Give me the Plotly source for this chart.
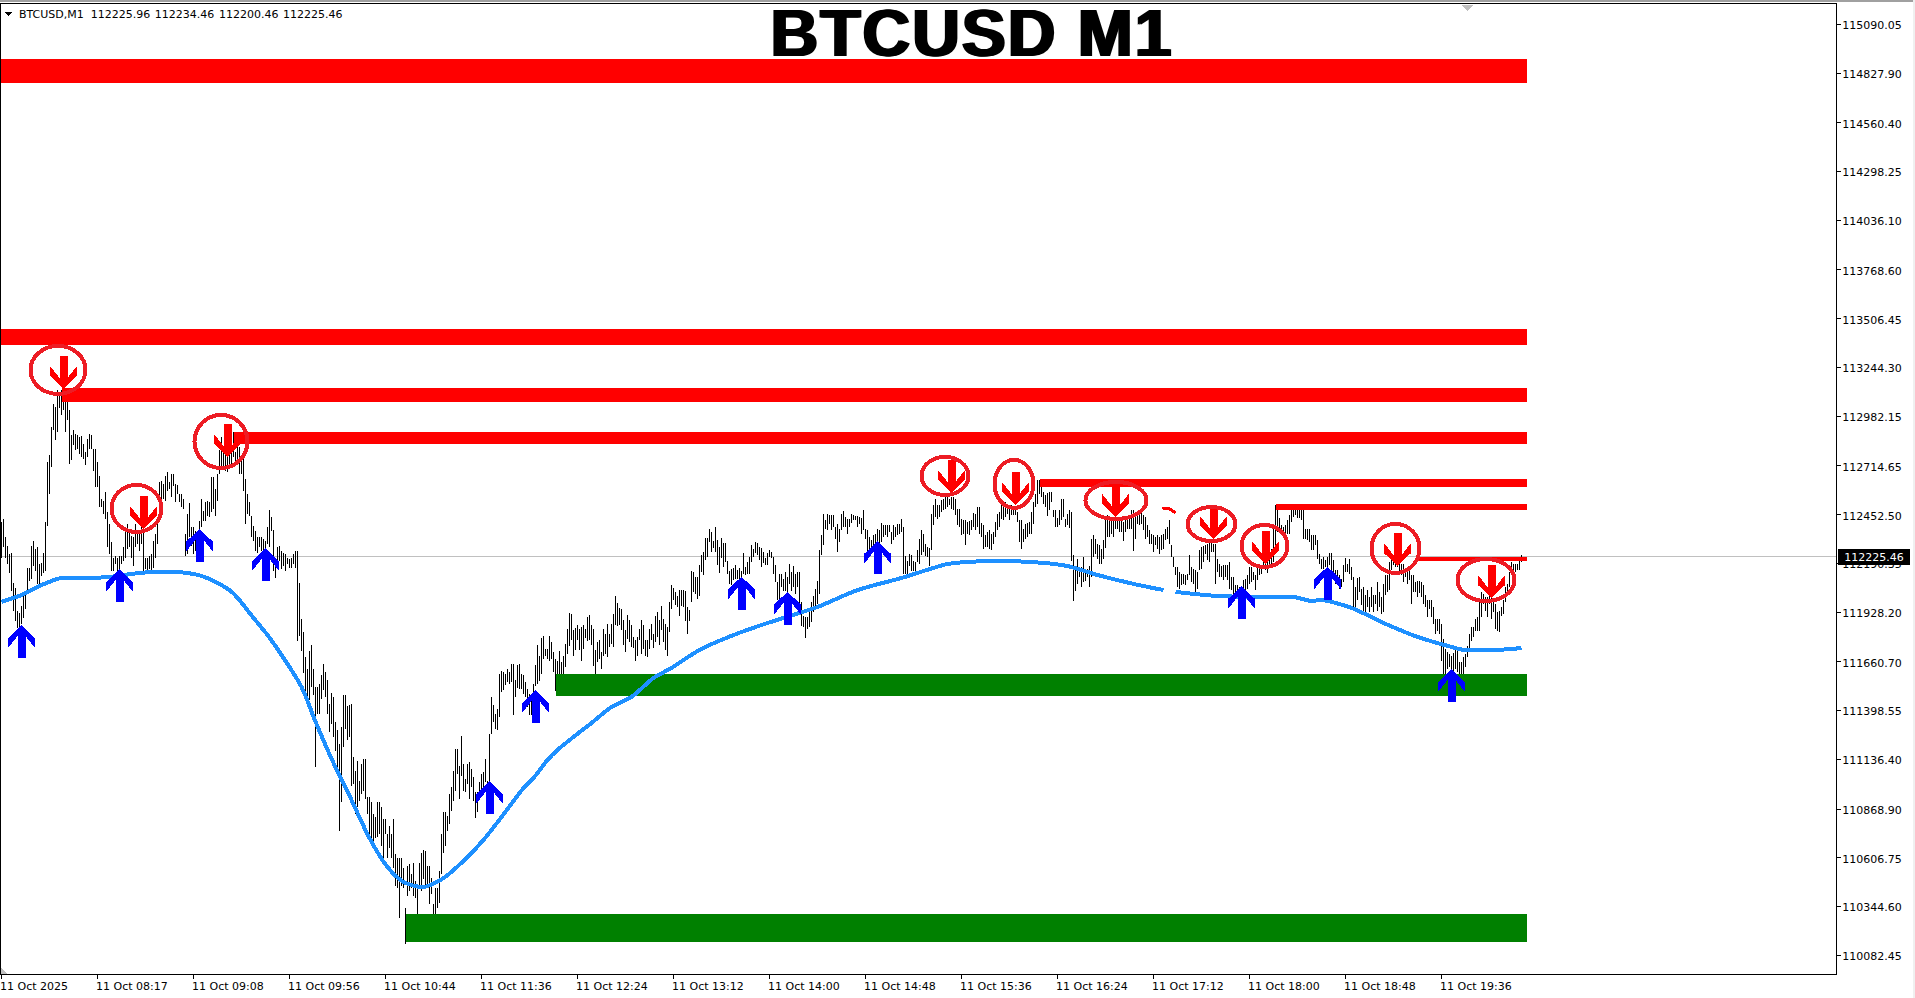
import plotly.graph_objects as go

# all prices below are stored as offset over this base
BASE = 110000

# M1 bar highs / lows, one per minute, oldest first
HIGHS = [
    2411,2429,2330,2285,2240,2244,2087,2060,1934,1925,1961,2015,2024,2168,2168,2285,2312,2267,2276,2186,
    2195,2249,2411,2735,2771,2924,3046,3032,3122,3104,3122,3068,3104,3100,3014,2879,2906,2888,2879,2870,
    2874,2834,2789,2861,2884,2879,2807,2807,2735,2663,2537,2528,2573,2465,2402,2303,2222,2231,2222,2231,
    2231,2276,2357,2402,2366,2339,2330,2402,2366,2366,2384,2357,2222,2222,2231,2240,2312,2348,2402,2627,
    2636,2618,2663,2681,2627,2672,2672,2618,2614,2564,2564,2537,2348,2456,2514,2384,2384,2366,2366,2420,
    2537,2474,2519,2528,2519,2654,2654,2591,2672,2798,2870,2816,2834,2816,2789,2816,2897,2789,2825,2816,
    2762,2753,2645,2564,2519,2447,2393,2366,2330,2330,2330,2321,2312,2384,2478,2438,2370,2222,2276,2285,
    2258,2249,2240,2222,2213,2222,2240,2258,2258,
    2085,1891,1821,1687,1622,1719,1752,1622,1526,1526,1544,1589,1647,1607,1562,1436,1494,1472,1337,1292,
    1220,1310,1481,1485,1422,1427,1432,1148,1076,1130,1022,1112,1139,1139,932,932,905,842,824,905,
    905,878,815,815,734,779,734,815,626,608,608,608,554,338,563,572,518,581,482,446,
    581,635,648,644,563,563,500,356,446,446,536,734,851,851,833,950,986,1076,1193,1193,
    1103,1260,1112,1031,1112,1121,1085,1040,959,959,1013,1058,1067,1139,1022,1274,1472,1427,1382,1409,
    1596,1612,1607,1594,1620,1607,1652,1652,1562,1643,1648,1598,1589,1553,1517,1490,1463,1544,
    1646,1749,1695,1790,1798,1731,1731,1798,1767,1713,1677,1668,1717,1659,1695,1758,1839,1925,1920,1834,
    1845,1857,1839,1848,1857,1839,1902,1911,1857,1835,1722,1767,1780,1713,1839,1812,1862,1808,1862,1920,
    2014,1978,1951,1947,1884,1830,1911,1884,1861,1794,1776,1794,1839,1884,1857,1776,1776,1839,1866,1812,
    1906,1929,1888,1960,1893,1866,1848,1981,2073,2060,2037,2014,2050,2046,2046,2042,1956,1938,2149,2145,
    2118,2118,2181,2235,2253,2325,2325,2374,2361,2312,2384,2316,2280,2325,2298,2298,2203,2149,2158,2163,
    2181,2154,2163,2149,2249,2172,2199,2226,2289,2267,2307,2298,2280,2271,2253,2217,2244,2262,2253,2226,
    2181,2091,
    2134,2134,2107,2143,2116,2188,2143,2179,2134,2143,2143,1981,1909,1904,1900,1927,1981,2017,2053,2098,
    2260,2341,2454,2422,2454,2453,2449,2449,2386,2400,2377,2454,2471,2440,2431,2431,2454,2449,2445,2444,
    2440,2436,2476,2377,2368,2332,2314,2341,2350,2377,2368,2408,2395,2395,2399,2399,2359,2395,2386,2400,
    2400,2431,2386,2228,2206,2242,2233,2206,2197,2260,2323,2368,2350,2296,2278,2274,2454,2503,2539,2503,
    2503,2530,2539,2548,2548,2539,2548,2548,2539,2485,2485,2431,2426,2422,2413,2418,2422,2462,2458,2494,
    2494,2408,2395,2341,2359,2368,2350,2359,2413,2458,2467,2521,2503,2521,2503,2503,2503,2485,2476,2467,
    2422,2422,2377,2404,2408,2413,2467,2521,2566,2638,2638,2620,2575,2557,2570,2575,2575,2476,2480,2436,
    2480,2539,2539,2431,2458,2480,2467,2233,2170,2215,2170,2170,2224,2152,2161,2179,2323,2341,2323,2296,
    2287,
    2270,2315,2441,2450,2432,2432,2432,2459,2432,2423,2441,2414,2432,2423,2450,2477,2477,2441,2450,2450,
    2477,2450,2441,2396,2369,2351,2342,2333,2342,2333,2342,2351,2378,2387,2423,2288,2225,2171,2171,2144,
    2135,2135,2126,2135,2234,2171,2162,2153,2144,2261,2279,2283,2288,2297,2306,2306,2297,2297,2216,2189,
    2176,2180,2180,2180,2198,2117,2117,2072,2072,2063,2063,2099,2108,2126,2171,2171,2144,2126,2171,2171,
    2162,2207,2225,2216,2252,2270,2378,2504,2504,2432,2396,2387,2396,2423,2450,2504,2495,2504,2477,2486,
    2495,2486,2378,2378,2378,2342,2342,2342,2315,2243,2216,2225,2207,2225,2247,2247,2207,2153,2153,2126,
    2108,2180,2221,2189,2216,2171,2117,2063,2113,2117,2054,2063,2018,2045,2009,2063,2018,2018,2090,2036,
    2009,2081,2126,2126,2198,2225,2225,2225,2198,2198,2189,2189,2162,2162,2171,2126,2126,2090,2096,2096,
    2090,2072,2018,1991,1991,1991,1955,1892,1892,1892,1865,1784,1730,1712,1703,1694,1707,1730,1721,1658,
    1658,1685,1703,1748,1811,1847,1847,1892,1901,2000,2036,2027,2009,2009,2018,2009,1982,1973,1928,1937,
    1955,1991,2063,2081,2144,2198,2189,2189,2189,2207,2234,
]
LOWS = [
    2222,2276,2222,2186,2141,2042,1934,1880,1844,1844,1862,1898,1943,2024,2096,2105,2177,2150,2078,2078,
    2123,2141,2150,2393,2564,2708,2906,2852,2897,3028,2987,3014,2897,2960,2726,2744,2825,2798,2807,2780,
    2762,2753,2717,2762,2807,2807,2690,2600,2600,2492,2492,2456,2429,2276,2240,2150,2150,2186,2150,2150,
    2186,2204,2222,2267,2276,2222,2177,2276,2294,2258,2294,2150,2159,2150,2159,2150,2168,2222,2294,2492,
    2528,2537,2528,2582,2591,2546,2609,2519,2564,2519,2492,2483,2231,2240,2330,2285,2240,2258,2276,2366,
    2384,2420,2420,2447,2438,2465,2483,2447,2528,2672,2708,2708,2690,2681,2708,2717,2762,2735,2753,2672,
    2672,2582,2402,2456,2447,2330,2312,2258,2249,2276,2258,2258,2249,2294,2276,2366,2150,2114,2186,2204,
    2159,2177,2150,2186,2168,2168,2186,2168,1772,
    1800,1720,1601,1493,1456,1456,1526,1483,1094,1382,1382,1463,1508,1472,1382,1283,1328,1256,1184,1094,
    752,905,1202,1301,1238,1256,995,1004,842,878,914,950,968,923,842,707,716,680,716,720,
    734,671,608,734,608,662,608,554,455,446,284,455,446,144,401,428,446,401,392,302,
    455,428,491,446,446,356,410,221,293,338,365,518,635,671,752,788,860,914,968,1058,
    923,1049,968,959,1004,923,986,914,819,851,932,950,968,1013,932,1022,1274,1337,1301,1292,
    1364,1499,1508,1535,1553,1544,1553,1373,1472,1522,1517,1517,1490,1472,1418,1373,1373,1454,
    1533,1542,1560,1596,1677,1695,1677,1668,1677,1605,1506,1596,1551,1551,1533,1632,1704,1744,1776,1695,
    1722,1776,1722,1664,1731,1789,1772,1776,1749,1641,1578,1659,1677,1623,1695,1704,1686,1740,1758,1740,
    1857,1852,1857,1830,1749,1713,1785,1767,1740,1736,1664,1695,1776,1704,1731,1695,1686,1731,1776,1736,
    1767,1794,1749,1830,1767,1722,1695,1821,1947,1992,1969,1956,1906,1960,1956,1880,1808,1880,1983,2037,
    2028,2001,2014,2145,2127,2208,2226,2307,2253,2271,2253,2181,2140,2217,2172,2199,2136,2082,2073,2100,
    2109,2109,2082,2091,2136,2127,2136,2136,2199,2226,2244,2235,2208,2172,2190,2181,2181,2226,2217,2136,
    2091,1996,
    2000,2062,2044,2044,2026,2080,2044,2062,2026,2062,1918,1855,1846,1788,1837,1846,1873,1927,1963,1972,
    2026,2233,2292,2377,2372,2404,2368,2386,2323,2251,2305,2368,2386,2386,2350,2386,2408,2422,2422,2386,
    2404,2350,2368,2323,2251,2251,2242,2287,2287,2305,2287,2305,2332,2341,2332,2359,2296,2314,2332,2341,
    2350,2359,2134,2134,2134,2179,2152,2152,2152,2197,2188,2233,2251,2228,2224,2179,2260,2395,2440,2431,
    2440,2467,2476,2485,2494,2503,2485,2476,2449,2395,2386,2341,2350,2292,2350,2341,2368,2386,2368,2386,
    2350,2332,2269,2278,2278,2269,2260,2296,2332,2368,2386,2431,2422,2440,2458,2422,2449,2449,2449,2413,
    2305,2267,2305,2323,2332,2350,2350,2404,2494,2512,2566,2548,2512,2494,2444,2476,2521,2440,2386,2386,
    2395,2422,2440,2386,2395,2382,2206,1986,2044,2080,2116,2062,2089,2098,2116,2062,2116,2224,2242,2215,
    2188,
    2189,2216,2275,2333,2333,2351,2333,2378,2378,2360,2360,2311,2360,2378,2378,2378,2257,2324,2405,2396,
    2405,2369,2324,2333,2297,2297,2252,2288,2270,2239,2261,2270,2315,2324,2297,2225,2171,2126,2063,2054,
    2072,2081,2072,2099,2126,2090,2081,2027,2054,2153,2162,2198,2243,2207,2198,2252,2252,2077,2144,2117,
    2117,2099,2117,2099,2054,2045,2027,2009,2018,2000,2009,2036,1991,2054,2081,2090,2099,2045,2099,2126,
    2135,2171,2153,2139,2171,2180,2198,2270,2360,2378,2342,2351,2347,2347,2351,2414,2441,2450,2432,2432,
    2423,2319,2319,2315,2306,2261,2261,2288,2216,2189,2162,2162,2171,2162,2180,2117,2117,2081,2108,2054,
    2063,2090,2144,2144,2135,2099,1937,1937,1991,2036,1964,1919,1919,1955,1928,1955,1928,1973,1937,1955,
    1919,1928,2018,2036,2045,2153,2180,2171,2171,2144,2126,2090,2117,2081,2099,1973,2036,2036,2011,2029,
    2011,1973,1955,1901,1946,1901,1865,1811,1829,1811,1667,1577,1595,1622,1631,1613,1586,1622,1604,1577,
    1568,1586,1631,1685,1721,1775,1793,1829,1829,1829,1901,1973,1937,1901,1973,1892,1928,1838,1829,1820,
    1910,1919,1982,2027,2063,2144,2135,2144,2153,2153,2198,
]

# blue moving average, None is the gap the picture shows
MA_BARS = [0,10,20,30,45,55,70,85,100,115,126,133,141,150,157,166,175,184,193,201,211,221,233,241,250,261,266,273,278,286,295,305,315,
           326,335,349,366,380,391,408,428,450,466,473,496,521,533,548,566,581,None,587,608,630,646,655,660,675,691,708,725,731,748,760]
MA_PRICES = [1984,2020,2074,2112,2112,2119,2140,2146,2123,2038,1897,1805,1682,1526,1339,1117,918,713,557,477,450,498,611,703,826,982,1036,1133,1187,1257,1332,1418,1472,
             1574,1628,1725,1805,1859,1897,1956,2047,2112,2166,2187,2203,2193,2176,2128,2080,2047,None,2037,2015,2010,2010,1988,1994,1951,1870,1795,1741,1725,1725,1735]

# horizontal zones: first bar, top price, bottom price
RED_STARTS = [-0.25,-0.25,30,116,519,637,708]
RED_TOPS = [4903,3451,3134,2897,2644,2510,2226]
RED_BOTTOMS = [4776,3365,3060,2832,2603,2477,2205]
GREEN_STARTS = [277.25,202.25]
GREEN_TOPS = [1595,304]
GREEN_BOTTOMS = [1477,154]
ZONE_END = 762.5

BUY_BARS = [10,59,99,132,244,267,370,393,438,620,663,725]
BUY_PRICES = [1859,2160,2376,2273,1020,1509,2119,2038,2311,2069,2173,1622]
SELL_BARS = [31,71,113,475,507,557,606,632,698,745]
SELL_PRICES = [3129,2376,2763,2569,2505,2442,2322,2187,2176,2004]

CIRCLE_BARS = [28.25,67.5,109.75,471.75,506.25,557.25,605,631.5,697,742.25]
CIRCLE_PRICES = [3231,2486,2846,2661,2618,2529,2402,2284,2271,2101]
CIRCLE_RX = [29.5,27,28.5,25.5,21.5,32.5,26,25,26,30.5]
CIRCLE_RY = [26,25.5,28.5,21,26,20.5,19,23,26.5,23]

STROKE_BARS = [580.5,583.5,587]
STROKE_PRICES = [2483,2487,2462]

LAST_PRICE = 112225.46
Y_TICKS = ["115090.05","114827.90","114560.40","114298.25","114036.10","113768.60","113506.45","113244.30","112982.15","112714.65",
           "112452.50","112190.35","111928.20","111660.70","111398.55","111136.40","110868.90","110606.75","110344.60","110082.45"]
X_LABELS = ["11 Oct 2025","11 Oct 08:17","11 Oct 09:08","11 Oct 09:56","11 Oct 10:44","11 Oct 11:36","11 Oct 12:24","11 Oct 13:12",
            "11 Oct 14:00","11 Oct 14:48","11 Oct 15:36","11 Oct 16:24","11 Oct 17:12","11 Oct 18:00","11 Oct 18:48","11 Oct 19:36"]
X_TICK_STEP = 48

WIDTH, HEIGHT = 1915, 998
LEFT, RIGHT, TOP, BOTTOM = 1, 79, 4, 24
FONT = "DejaVu Sans"
RED = "#FF0000"
GREEN = "#008000"
BLUE = "#0000FF"
MA_BLUE = "#1E90FF"
RING = "#ED1C24"

plot_w = WIDTH - LEFT - RIGHT
plot_h = HEIGHT - TOP - BOTTOM


def px_x(x):
    return (x - LEFT) / plot_w


def px_y(y):
    return 1 - (y - TOP) / plot_h


def zone_trace(starts, tops, bottoms, color):
    xs, ys = [], []
    for s, t, b in zip(starts, tops, bottoms):
        xs += [s, ZONE_END, ZONE_END, s, s, None]
        ys += [BASE + t, BASE + t, BASE + b, BASE + b, BASE + t, None]
    return go.Scatter(x=xs, y=ys, mode="none", fill="toself", fillcolor=color, hoverinfo="skip", showlegend=False)


def arrow_path(sign):
    # tip at the anchor, sign -1 body below the tip (buy), +1 body above (sell)
    pts = [(0, 0), (13.5, 13), (13.5, 23), (4, 11), (4, 33), (-4, 33), (-4, 11), (-13.5, 23), (-13.5, 13)]
    return "M" + " L".join(f"{x},{sign * y}" for x, y in pts) + " Z"


bar_x, bar_y = [], []
for i, (h, l) in enumerate(zip(HIGHS, LOWS)):
    bar_x += [i, i, None]
    bar_y += [BASE + h, BASE + l, None]

fig = go.Figure()
fig.add_trace(go.Scatter(x=[-0.25, 917.25], y=[LAST_PRICE, LAST_PRICE], mode="lines",
                         line=dict(color="#C0C0C0", width=1), hoverinfo="skip", showlegend=False))
fig.add_trace(go.Scatter(x=bar_x, y=bar_y, mode="lines", line=dict(color="#000000", width=1, simplify=False),
                         hoverinfo="skip", showlegend=False))
fig.add_trace(zone_trace(RED_STARTS, RED_TOPS, RED_BOTTOMS, RED))
fig.add_trace(zone_trace(GREEN_STARTS, GREEN_TOPS, GREEN_BOTTOMS, GREEN))
fig.add_trace(go.Scatter(x=MA_BARS, y=[None if p is None else BASE + p for p in MA_PRICES], mode="lines",
                         line=dict(color=MA_BLUE, width=4, shape="spline", smoothing=0.8), hoverinfo="skip", showlegend=False))
fig.add_trace(go.Scatter(x=STROKE_BARS, y=[BASE + p for p in STROKE_PRICES], mode="lines",
                         line=dict(color=RED, width=3), hoverinfo="skip", showlegend=False))

shapes = []
for b, p in zip(BUY_BARS, BUY_PRICES):
    shapes.append(dict(type="path", xref="x", yref="y", xsizemode="pixel", ysizemode="pixel", xanchor=b, yanchor=BASE + p,
                       path=arrow_path(-1), fillcolor=BLUE, line=dict(width=0), layer="above"))
for b, p in zip(SELL_BARS, SELL_PRICES):
    shapes.append(dict(type="path", xref="x", yref="y", xsizemode="pixel", ysizemode="pixel", xanchor=b, yanchor=BASE + p,
                       path=arrow_path(1), fillcolor=RED, line=dict(width=0), layer="above"))
for b, p, rx, ry in zip(CIRCLE_BARS, CIRCLE_PRICES, CIRCLE_RX, CIRCLE_RY):
    shapes.append(dict(type="circle", xref="x", yref="y", xsizemode="pixel", ysizemode="pixel", xanchor=b, yanchor=BASE + p,
                       x0=-(rx - 2), x1=rx - 2, y0=-(ry - 2), y1=ry - 2,
                       line=dict(color=RING, width=4), layer="above"))

# window chrome, the menu triangle and the two small grey chart markers
shapes.append(dict(type="rect", xref="paper", yref="paper", x0=px_x(0), x1=px_x(WIDTH), y0=px_y(2), y1=px_y(0),
                   fillcolor="#A0A0A0", line=dict(width=0)))
shapes.append(dict(type="rect", xref="paper", yref="paper", x0=px_x(WIDTH - 2), x1=px_x(WIDTH), y0=px_y(HEIGHT), y1=px_y(0),
                   fillcolor="#F0F0F0", line=dict(width=0)))
shapes.append(dict(type="path", xref="paper", yref="paper",
                   path=f"M{px_x(5)},{px_y(12)} L{px_x(12)},{px_y(12)} L{px_x(8.5)},{px_y(16.5)} Z",
                   fillcolor="#000000", line=dict(width=0)))
shapes.append(dict(type="path", xref="paper", yref="paper",
                   path=f"M{px_x(1462)},{px_y(5)} L{px_x(1473)},{px_y(5)} L{px_x(1467.5)},{px_y(11)} Z",
                   fillcolor="#C0C0C0", line=dict(width=0)))
shapes.append(dict(type="path", xref="paper", yref="paper",
                   path=f"M{px_x(1)},{px_y(968)} L{px_x(7)},{px_y(974)} L{px_x(1)},{px_y(974)} Z",
                   fillcolor="#C0C0C0", line=dict(width=0)))

annotations = [
    dict(text="BTCUSD M1", xref="paper", yref="paper", x=px_x(972), y=px_y(33), xanchor="center", yanchor="middle", showarrow=False,
         height=52, width=430,
         font=dict(family="Liberation Sans", size=66, color="#000000", weight="bold",
                   shadow="1.5px 0 0 #000, -1.5px 0 0 #000")),
    dict(text="BTCUSD,M1  112225.96\u200a 112234.46\u200a 112200.46\u200a 112225.46", xref="paper", yref="paper", x=px_x(17), y=px_y(14.5),
         xanchor="left", yanchor="middle", showarrow=False, font=dict(family=FONT, size=11, color="#000000")),
    dict(text=f"{LAST_PRICE:.2f}", xref="paper", yref="y", x=px_x(1838), y=LAST_PRICE, xanchor="left", yanchor="middle", showarrow=False,
         bgcolor="#000000", borderpad=1, borderwidth=0, width=70, height=14, align="center",
         font=dict(family=FONT, size=11, color="#FFFFFF")),
]
for k, label in enumerate(X_LABELS):
    annotations.append(dict(text=label, xref="x", yref="paper", x=k * X_TICK_STEP, y=0, yshift=-12.7, xshift=-4,
                            xanchor="left", yanchor="middle", showarrow=False,
                            font=dict(family=FONT, size=11, color="#000000")))

fig.update_layout(
    width=WIDTH,
    height=HEIGHT,
    margin=dict(l=LEFT, r=RIGHT, t=TOP, b=BOTTOM, pad=0),
    paper_bgcolor="#FFFFFF",
    plot_bgcolor="#FFFFFF",
    showlegend=False,
    shapes=shapes,
    annotations=annotations,
    xaxis=dict(range=[-0.25, 917.25], tickvals=[k * X_TICK_STEP for k in range(len(X_LABELS))], showticklabels=False,
               ticks="outside", ticklen=4, tickcolor="#000000", showgrid=False, zeroline=False,
               showline=True, mirror=True, linecolor="#000000", linewidth=1),
    yaxis=dict(range=[109981.9, 115199.2], side="right", tickvals=[float(t) for t in Y_TICKS], ticktext=Y_TICKS,
               ticks="outside", ticklen=4, tickcolor="#000000", showgrid=False, zeroline=False,
               showline=True, mirror=True, linecolor="#000000", linewidth=1, ticklabelshift=1, ticklabelstandoff=-1,
               tickfont=dict(family=FONT, size=11, color="#000000")),
)

# the terminal draws everything without anti-aliasing, and its title runs wider than Liberation Sans Bold
crisp = ("document.body.style.margin='0';"
         "var s=document.createElement('style');"
         "s.textContent='.scatterlayer path,.shapelayer path{shape-rendering:crispEdges}"
         ".annotation[data-index=\"0\"] text{letter-spacing:2px}';"
         "document.head.appendChild(s);")
fig.write_html("out.html", post_script=crisp, config=dict(displayModeBar=False))
